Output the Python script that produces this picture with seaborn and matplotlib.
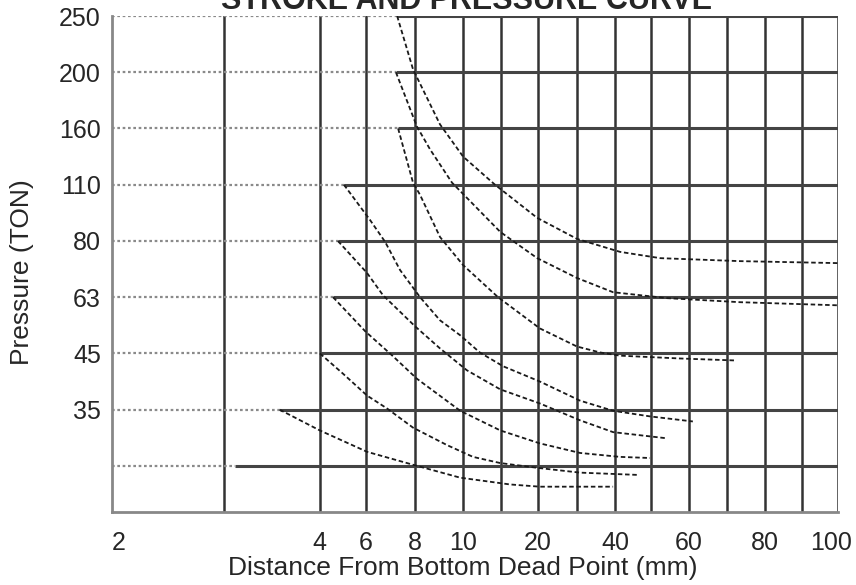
import numpy as np
import pandas as pd
import matplotlib
matplotlib.use('Agg')
import matplotlib.pyplot as plt
import matplotlib.transforms as mtransforms
import seaborn as sns

# gridlines on the distance axis (mm) and the labelled ones
x_grid = [2, 3, 4, 6, 8, 10, 15, 20, 30, 40, 50, 60, 70, 80, 90, 100]
x_ticks = [2, 4, 6, 8, 10, 20, 40, 60, 80, 100]
# pressure levels (TON), lowest line has no label
y_levels = [25, 35, 45, 63, 80, 110, 160, 200, 250]
y_ticks = [35, 45, 63, 80, 110, 160, 200, 250]
# where each level line turns from dotted to solid (mm)
solid_from = [3.11, 3.58, 4.0, 4.57, 4.78, 5.04, 7.31, 7.22, 7.27]

# stroke / pressure curves, one per press size
dist_35 = [3.58, 4.0, 6.04, 7.92, 9.88, 16.2, 20.5, 39.5]
pres_35 = [35, 31.3, 27.5, 25.2, 22.9, 21.7, 21.3, 21.3]
dist_45 = [4.0, 5.0, 6.04, 6.86, 7.92, 9.33, 11.3, 14.9, 20.5, 30.8, 46.1]
pres_45 = [45, 41.4, 37.5, 35.2, 31.8, 28.7, 26.6, 25.5, 24.6, 23.8, 23.4]
dist_63 = [4.57, 5.96, 7.1, 8.08, 9.88, 14.9, 20.5, 30.8, 41.4, 49.7]
pres_63 = [63, 52.1, 44.5, 40.5, 34.8, 31.3, 29.0, 27.3, 26.6, 26.4]
dist_80 = [4.78, 6.04, 6.69, 8.0, 9.04, 10.5, 14.9, 20.5, 30.8, 39.5, 54.2]
pres_80 = [80, 70.3, 63.6, 53.7, 46.6, 42.0, 38.6, 36.1, 33.1, 31.0, 29.9]
dist_110 = [5.04, 6.16, 6.78, 7.39, 8.21, 9.04, 9.88, 12.2, 15.3, 20.5, 30.8, 39.5, 49.7, 61.0]
pres_110 = [110, 91.2, 79.7, 71.2, 63, 55.6, 50.8, 45.3, 42.7, 40.0, 36.6, 34.8, 33.8, 32.9]
dist_160 = [7.31, 7.92, 8.21, 9.04, 10.0, 14.6, 20.5, 30.0, 36.1, 41.4, 57.6, 72.1]
pres_160 = [160, 111.8, 104.6, 82.1, 72.7, 63.0, 53.0, 47.2, 45.3, 44.6, 44.1, 43.75]
dist_200 = [7.22, 8.08, 8.63, 9.54, 14.9, 19.9, 30.0, 39.5, 54.2, 73.4, 100]
pres_200 = [200, 161.4, 141.3, 111.8, 84.8, 74.8, 68.8, 64.5, 62.7, 61.4, 60.4]
dist_250 = [7.27, 7.92, 9.04, 10.0, 14.2, 19.9, 30.0, 41.4, 52.4, 73.4, 100]
pres_250 = [250, 202.6, 162.9, 135.0, 110.0, 92.3, 81.1, 76.7, 74.8, 73.9, 73.3]

curves = {35: (dist_35, pres_35), 45: (dist_45, pres_45), 63: (dist_63, pres_63),
          80: (dist_80, pres_80), 110: (dist_110, pres_110), 160: (dist_160, pres_160),
          200: (dist_200, pres_200), 250: (dist_250, pres_250)}

rows = []
for ton, (d, p) in curves.items():
    for a, b in zip(d, p):
        rows.append({'ton': ton, 'dist': a, 'pres': b})
df = pd.DataFrame(rows)

# the chart paper is not log or linear: grid spacing of the original sheet
x_pos = [0, 2.98, 5.53, 6.76, 8.06, 9.34, 10.35, 11.33, 12.37, 13.38,
         14.34, 15.35, 16.36, 17.37, 18.35, 19.31]
y_pos = list(range(len(y_levels)))
y_step = y_levels[1] - y_levels[0]


def x_fwd(v):
    return np.interp(v, x_grid, x_pos)


def x_inv(p):
    return np.interp(p, x_pos, x_grid)


def y_fwd(v):
    v = np.asarray(v, dtype=float)
    return np.where(v < y_levels[0], (v - y_levels[0]) / y_step, np.interp(v, y_levels, y_pos))


def y_inv(p):
    p = np.asarray(p, dtype=float)
    return np.where(p < 0, y_levels[0] + p * y_step, np.interp(p, y_pos, y_levels))


sns.set_style('white')
plt.rcParams['font.family'] = ['Liberation Sans', 'DejaVu Sans']

fig = plt.figure(figsize=(8.56, 5.85), dpi=100)
ax = fig.add_axes([0.1308, 0.1248, 0.8481, 0.8478])
ax.set_xscale('function', functions=(x_fwd, x_inv))
ax.set_yscale('function', functions=(y_fwd, y_inv))
ax.set_xlim(2, 100)
ax.set_ylim(y_levels[0] - 0.82 * y_step, 250)

# vertical grid
for v in x_grid[1:]:
    ax.axvline(v, color='#333333', lw=1.8, zorder=1)

# horizontal level lines: dotted to the curve start, solid after
for lev, s in zip(y_levels, solid_from):
    ax.plot([2, s], [lev, lev], color='#8a8a8a', lw=1.6, ls=(0, (1.2, 1.2)), zorder=1)
    ax.plot([s, 100], [lev, lev], color='#444444', lw=2.2, zorder=1, solid_capstyle='butt')

sns.lineplot(data=df, x='dist', y='pres', units='ton', estimator=None, color='#1a1a1a',
             lw=1.3, linestyle=(0, (2.5, 1.5)), ax=ax, zorder=3, legend=False)

for side in ['top', 'right']:
    ax.spines[side].set_visible(False)
for side in ['left', 'bottom']:
    ax.spines[side].set_color('#888888')
    ax.spines[side].set_linewidth(2)

ax.set_xticks(x_ticks)
xlabels = ax.set_xticklabels([str(t) for t in x_ticks])
ax.set_yticks(y_ticks)
ax.set_yticklabels([str(t) for t in y_ticks])
ax.xaxis.set_minor_locator(matplotlib.ticker.NullLocator())
ax.yaxis.set_minor_locator(matplotlib.ticker.NullLocator())
ax.tick_params(axis='x', length=0, labelsize=18, pad=14)
ax.tick_params(axis='y', length=0, labelsize=18, pad=8)

# first and last labels sit inside the frame like on the sheet
xlabels[0].set_ha('left')
xlabels[-1].set_ha('right')
shift = mtransforms.ScaledTranslation(14 / 100, 0, fig.dpi_scale_trans)
xlabels[-1].set_transform(xlabels[-1].get_transform() + shift)

ax.set_xlabel('Distance From Bottom Dead Point (mm)', fontsize=19)
ax.set_ylabel('Pressure (TON)', fontsize=19)
ax.xaxis.label.set_va('center')
ax.yaxis.label.set_va('center')
ax.xaxis.set_label_coords(0.4835, -0.113)
ax.yaxis.set_label_coords(-0.124, 0.484)

fig.text(467 / 856, 1 - 9 / 585, 'STROKE AND PRESSURE CURVE', ha='center', va='baseline',
         fontsize=22, fontweight='bold')

fig.savefig('out.png', dpi=100)
